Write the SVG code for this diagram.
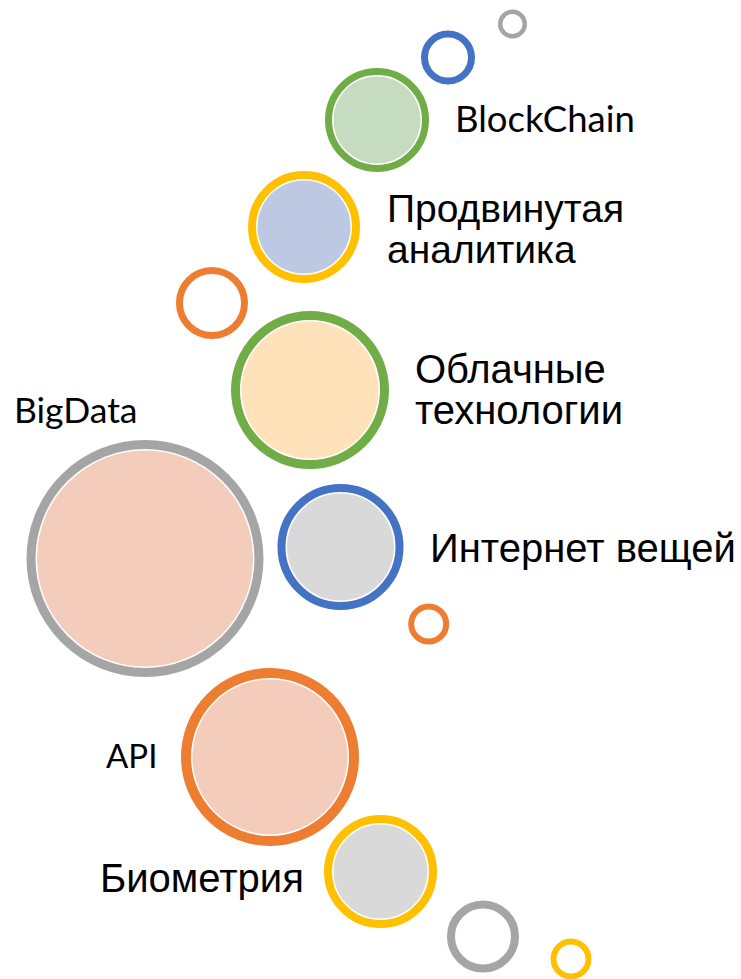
<svg xmlns="http://www.w3.org/2000/svg" width="741" height="979" viewBox="0 0 741 979">
<style>
.ring{fill:none}
.fill{stroke:none}
.cal{font-family:Lato,"Open Sans",sans-serif;fill:#000}
.ari{font-family:"Liberation Sans",Arial,sans-serif;fill:#000}
.gray{stroke:#A5A5A5}.blue{stroke:#4472C4}.orange{stroke:#ED7D31}.green{stroke:#70AD47}.yellow{stroke:#FFC000}
</style>
<rect width="741" height="979" fill="#fff"/>
<g id="dot-gray-top"><circle class="ring gray" cx="512.5" cy="24" r="12.3" stroke-width="4.5"/></g>
<g id="dot-blue-top"><circle class="ring blue" cx="448" cy="57.5" r="23.5" stroke-width="7"/></g>
<g id="node-blockchain">
<circle class="ring green" cx="377" cy="120" r="48.5" stroke-width="7"/>
<circle class="fill" cx="377" cy="120" r="43.5" fill="#C5DCC1"/>
<text class="cal" x="455" y="132" font-size="36.5">BlockChain</text>
</g>
<g id="node-analytics">
<circle class="ring yellow" cx="304" cy="227" r="52" stroke-width="8"/>
<circle class="fill" cx="304" cy="227" r="46.5" fill="#BDC8E2"/>
<text class="ari" x="387" y="222" font-size="39">Продвинутая</text>
<text class="ari" x="387" y="263" font-size="39">аналитика</text>
</g>
<g id="dot-orange-mid"><circle class="ring orange" cx="212" cy="303" r="32.5" stroke-width="7"/></g>
<g id="node-cloud">
<circle class="ring green" cx="310" cy="390" r="74.5" stroke-width="9"/>
<circle class="fill" cx="310" cy="390" r="68.5" fill="#FFE1BA"/>
<text class="ari" x="415" y="383" font-size="40">Облачные</text>
<text class="ari" x="415" y="424" font-size="40">технологии</text>
</g>
<g id="node-bigdata">
<circle class="ring gray" cx="145" cy="558.5" r="114" stroke-width="9"/>
<circle class="fill" cx="145" cy="558.5" r="108" fill="#F4CCBB"/>
<text class="cal" x="14" y="423" font-size="35.5">BigData</text>
</g>
<g id="node-iot">
<circle class="ring blue" cx="340.5" cy="547" r="59" stroke-width="8"/>
<circle class="fill" cx="340.5" cy="547" r="53.5" fill="#D9D9D9"/>
<text class="ari" x="430" y="562" font-size="40">Интернет вещей</text>
</g>
<g id="dot-orange-small"><circle class="ring orange" cx="428.7" cy="624" r="17.5" stroke-width="6"/></g>
<g id="node-api">
<circle class="ring orange" cx="270" cy="757" r="84" stroke-width="10"/>
<circle class="fill" cx="270" cy="757" r="77.5" fill="#F4CCBB"/>
<text class="cal" x="106" y="768" font-size="33">API</text>
</g>
<g id="node-biometrics">
<circle class="ring yellow" cx="380.5" cy="871.5" r="52.5" stroke-width="8"/>
<circle class="fill" cx="380.5" cy="871.5" r="47" fill="#D9D9D9"/>
<text class="ari" x="100" y="892" font-size="40">Биометрия</text>
</g>
<g id="dot-gray-bottom"><circle class="ring gray" cx="483" cy="936.5" r="32" stroke-width="8"/></g>
<g id="dot-yellow-bottom"><circle class="ring yellow" cx="571" cy="959" r="17.5" stroke-width="6"/></g>
</svg>
